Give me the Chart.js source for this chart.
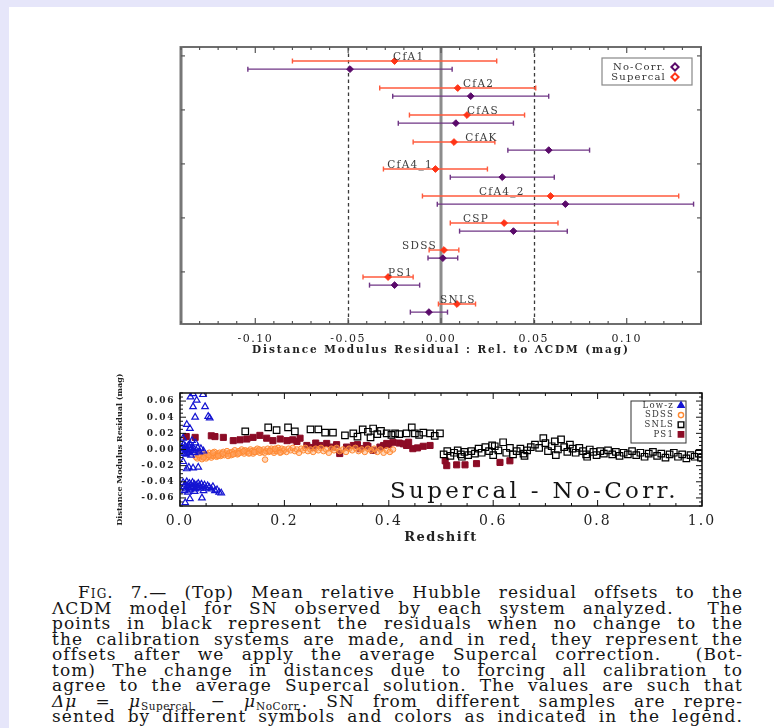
<!DOCTYPE html>
<html><head><meta charset="utf-8">
<script src="https://cdn.jsdelivr.net/npm/chart.js@4.4.1/dist/chart.umd.min.js"></script>
<style>
html,body{margin:0;padding:0;}
body{width:774px;height:728px;background:#e6e6fa;position:relative;overflow:hidden;}
#page{position:absolute;left:9px;top:7px;right:0;bottom:0;background:#fff;}
canvas{position:absolute;left:0;}
#c1{top:0;}
#c2{top:360px;}
.ln{position:absolute;left:52px;width:691px;height:16px;line-height:16px;font-family:"DejaVu Serif";font-size:17px;letter-spacing:1.05px;color:#151515;text-align:justify;text-align-last:justify;}
.ln sub{font-size:10.5px;vertical-align:-3px;line-height:0;letter-spacing:0.5px;}
.sc{font-variant:small-caps;}
</style>
</head><body>
<div id="page"></div>
<canvas id="c1" width="774" height="365"></canvas>
<canvas id="c2" width="774" height="200"></canvas>
<div class="ln" style="top:584px;left:78px;width:665px"><span class="sc">Fig.</span> 7.— (Top) Mean relative Hubble residual offsets to the</div>
<div class="ln" style="top:599.5px">ΛCDM model for SN observed by each system analyzed.&nbsp; The</div>
<div class="ln" style="top:615px">points in black represent the residuals when no change to the</div>
<div class="ln" style="top:630.5px">the calibration systems are made, and in red, they represent the</div>
<div class="ln" style="top:646px">offsets after we apply the average Supercal correction.&nbsp; (Bot-</div>
<div class="ln" style="top:661.5px">tom) The change in distances due to forcing all calibration to</div>
<div class="ln" style="top:677px">agree to the average Supercal solution. The values are such that</div>
<div class="ln" style="top:692.5px"><i>Δμ</i> = <i>μ</i><sub>Supercal</sub> − <i>μ</i><sub>NoCorr.</sub>. SN from different samples are repre-</div>
<div class="ln" style="top:708px">sented by different symbols and colors as indicated in the legend.</div>
<script>
// ---------------- DATA: top panel ----------------
const samples      = ['CfA1','CfA2','CfAS','CfAK','CfA4_1','CfA4_2','CSP','SDSS','PS1','SNLS'];
const noCorrMean   = [-0.049, 0.016, 0.008, 0.058, 0.033, 0.067, 0.039, 0.001, -0.025, -0.0065];
const noCorrErr    = [0.055, 0.042, 0.031, 0.022, 0.028, 0.069, 0.029, 0.008, 0.0135, 0.010];
const supercalMean = [-0.025, 0.009, 0.014, 0.007, -0.003, 0.059, 0.034, 0.0016, -0.0285, 0.0086];
const supercalErr  = [0.055, 0.042, 0.031, 0.022, 0.028, 0.069, 0.029, 0.008, 0.0135, 0.010];
const sampleLabelX = [-0.0258, 0.0118, 0.014, 0.013, -0.029, 0.0204, 0.0118, -0.021, -0.0285, -0.0005];
const residTicks   = [-0.10, -0.05, 0.00, 0.05, 0.10];

// ---------------- DATA: bottom panel [redshift, delta mu] ----------------
const lowz = [[0.025,0.069],[0.044,0.068],[0.032,0.061],[0.020,0.065],[0.025,0.053],[0.048,0.053],[0.029,0.040],[0.054,0.041],[0.057,0.039],[0.013,0.031],[0.019,0.026],[0.006,0.014],[0.023,0.011],[0.030,0.008],[0.016,0.005],
[0.004,0.003],[0.006,-0.002],[0.008,0.001],[0.009,-0.005],[0.010,0.004],[0.011,-0.001],[0.012,-0.006],[0.013,0.002],[0.014,-0.003],[0.015,0.000],[0.017,-0.004],[0.018,0.003],[0.020,-0.001],[0.021,-0.007],[0.022,0.002],[0.024,-0.002],[0.026,0.001],[0.028,-0.004],[0.031,-0.001],[0.034,0.002],[0.037,-0.003],[0.040,0.001],[0.045,-0.002],[0.007,0.006],[0.019,0.007],
[0.013,-0.024],[0.017,-0.022],[0.025,-0.023],[0.035,-0.022],[0.006,-0.015],
[0.006,-0.041],[0.008,-0.046],[0.010,-0.043],[0.011,-0.049],[0.013,-0.040],[0.014,-0.045],[0.016,-0.047],[0.018,-0.042],[0.019,-0.050],[0.021,-0.044],[0.022,-0.048],[0.024,-0.041],[0.026,-0.046],[0.027,-0.043],[0.029,-0.049],[0.031,-0.044],[0.033,-0.047],[0.035,-0.042],[0.037,-0.045],[0.039,-0.048],[0.041,-0.043],[0.044,-0.046],[0.047,-0.044],[0.050,-0.048],[0.053,-0.045],[0.056,-0.047],[0.060,-0.049],[0.063,-0.046],[0.067,-0.051],[0.071,-0.050],[0.075,-0.053],[0.079,-0.054],[0.009,-0.051],[0.015,-0.053],[0.028,-0.052],[0.045,-0.051],
[0.019,-0.061],[0.042,-0.060],[0.010,-0.066]];
const sdss = [[0.030,-0.009],[0.033,-0.011],[0.035,-0.006],[0.038,-0.010],[0.040,-0.008],[0.042,-0.012],[0.044,-0.005],[0.046,-0.009],[0.048,-0.007],[0.050,-0.011],[0.052,-0.006],[0.054,-0.009],[0.056,-0.004],[0.058,-0.008],[0.060,-0.010],[0.062,-0.006],[0.064,-0.008],[0.066,-0.003],[0.068,-0.007],[0.070,-0.009],[0.072,-0.005],[0.074,-0.007],[0.076,-0.004],[0.078,-0.008],[0.080,-0.006],[0.083,-0.003],[0.085,-0.007],[0.088,-0.005],[0.090,-0.002],[0.093,-0.006],[0.095,-0.004],[0.098,-0.007],[0.100,-0.003],[0.103,-0.005],[0.105,-0.001],[0.108,-0.004],[0.110,-0.006],[0.113,-0.002],[0.115,-0.004],[0.118,0.000],[0.120,-0.003],[0.123,-0.005],[0.125,-0.001],[0.128,-0.003],[0.130,-0.002],[0.133,-0.004],[0.135,0.000],[0.138,-0.002],[0.140,-0.005],[0.143,-0.001],[0.145,-0.003],[0.148,0.001],[0.150,-0.002],[0.153,-0.004],[0.155,-0.001],[0.158,-0.003],[0.160,0.000],[0.163,-0.0125],[0.165,-0.002],[0.168,0.001],[0.170,-0.003],[0.173,-0.001],[0.175,0.001],[0.178,-0.002],[0.180,-0.004],[0.183,0.000],[0.185,-0.002],[0.188,0.002],[0.190,-0.001],[0.193,-0.003],[0.195,0.001],[0.198,-0.002],[0.200,0.000],[0.204,-0.003],[0.208,0.001],[0.212,-0.001],[0.216,0.002],[0.220,-0.002],[0.224,0.000],[0.228,-0.004],[0.232,0.001],[0.236,-0.001],[0.240,0.002],[0.245,-0.002],[0.250,0.000],[0.255,-0.003],[0.260,0.001],[0.265,-0.001],[0.270,0.002],[0.275,-0.002],[0.280,0.000],[0.285,-0.004],[0.290,0.001],[0.295,-0.001],[0.300,0.002],[0.306,-0.002],[0.312,0.000],[0.318,-0.003],[0.324,0.001],[0.330,-0.001],[0.336,0.002],[0.342,-0.002],[0.348,0.000],[0.354,-0.003],[0.360,0.001],[0.366,-0.001],[0.372,0.001],[0.378,-0.003],[0.384,0.000],[0.390,-0.004],[0.396,-0.001],[0.402,-0.003],[0.408,0.000],
[0.036,-0.007],[0.045,-0.010],[0.055,-0.007],[0.063,-0.004],[0.073,-0.008],[0.082,-0.005],[0.092,-0.008],[0.102,-0.006],[0.112,-0.005],[0.122,-0.002],[0.132,-0.005],[0.142,-0.003],[0.152,0.000],[0.162,-0.004],[0.172,-0.002],[0.182,0.001],[0.192,-0.004]];
const snls = [[0.125,0.0225],[0.169,0.0275],[0.185,0.024],[0.207,0.0275],[0.220,0.0225],[0.250,0.025],[0.265,0.025],[0.278,0.021],[0.293,0.021],[0.316,0.0175],[0.332,0.020],[0.350,0.025],[0.360,0.022],[0.370,0.026],[0.378,0.019],[0.385,0.023],[0.396,0.020],[0.405,0.018],[0.412,0.020],[0.420,0.019],[0.434,0.020],[0.444,0.0275],[0.450,0.020],[0.458,0.018],[0.466,0.021],[0.479,0.020],[0.488,0.017],[0.498,0.020],[0.340,0.016],[0.365,0.015],
[0.505,-0.006],[0.512,-0.002],[0.518,-0.008],[0.525,-0.004],[0.532,-0.001],[0.538,-0.006],[0.545,-0.003],[0.552,-0.007],[0.558,-0.002],[0.565,-0.005],[0.572,0.001],[0.578,-0.004],[0.585,0.003],[0.592,-0.002],[0.598,0.005],[0.603,0.004],[0.610,-0.001],[0.619,0.009],[0.625,-0.004],[0.632,0.002],[0.638,-0.006],[0.645,-0.002],[0.652,0.001],[0.658,-0.005],[0.665,-0.001],[0.672,0.003],[0.680,0.006],[0.688,0.002],[0.696,0.014],[0.700,0.008],[0.705,-0.002],[0.712,0.004],[0.718,0.010],[0.724,0.000],[0.730,0.0125],[0.736,0.003],[0.742,-0.003],[0.747,0.006],[0.752,0.001],[0.758,-0.004],[0.765,0.002],[0.772,-0.002],[0.778,-0.006],[0.785,0.000],[0.792,-0.003],[0.798,-0.007],[0.805,-0.002],[0.812,-0.005],[0.820,-0.001],[0.828,-0.006],[0.835,-0.003],[0.842,-0.008],[0.850,-0.004],[0.858,-0.006],[0.866,-0.002],[0.874,-0.007],[0.882,-0.004],[0.890,-0.009],[0.898,-0.005],[0.906,-0.003],[0.914,-0.008],[0.922,-0.005],[0.930,-0.010],[0.938,-0.006],[0.946,-0.004],[0.954,-0.009],[0.962,-0.006],[0.970,-0.011],[0.978,-0.007],[0.986,-0.009],[0.994,-0.005],[0.998,-0.010],[0.540,-0.009],[0.600,-0.007],[0.660,-0.008],[0.720,-0.007],[0.780,-0.009]];
const ps1 = [[0.012,0.016],[0.029,0.015],[0.060,0.017],[0.067,0.016],[0.083,0.015],[0.102,0.011],[0.115,0.012],[0.128,0.013],[0.140,0.015],[0.153,0.0175],[0.166,0.014],[0.178,0.011],[0.192,0.013],[0.205,0.011],[0.216,0.012],[0.224,0.010],[0.230,0.014],[0.243,0.005],[0.255,0.0025],[0.268,0.005],[0.281,0.0075],[0.293,0.003],[0.306,-0.005],[0.319,0.003],[0.332,0.005],[0.345,0.001],[0.357,0.005],[0.370,-0.001],[0.383,0.003],[0.390,0.005],[0.396,0.0075],[0.408,0.009],[0.420,0.008],[0.434,0.005],[0.446,0.001],[0.455,0.002],[0.466,0.004],[0.479,0.005],[0.508,-0.014],[0.511,-0.020],[0.530,-0.019],[0.546,-0.019],[0.568,-0.0175],[0.613,-0.016],[0.632,-0.014],[0.260,0.008],[0.300,0.006],[0.340,0.006],[0.360,0.004],[0.400,0.006],[0.428,0.007],[0.438,0.009]];
const zTicks  = [0.0, 0.2, 0.4, 0.6, 0.8, 1.0];
const dmTicks = [-0.06, -0.04, -0.02, 0.00, 0.02, 0.04, 0.06];

// ---------------- helpers ----------------
Chart.defaults.font.family = '"DejaVu Serif", "Liberation Serif", serif';
Chart.defaults.color = '#222';
function spaced(scale, tickSp, titleSp){
  if (scale.__sp) return; scale.__sp = true;
  const dl = scale.drawLabels, dt = scale.drawTitle;
  scale.drawLabels = function(a){ const c=this.ctx; c.save(); c.letterSpacing=tickSp; dl.call(this,a); c.restore(); };
  scale.drawTitle = function(){ const c=this.ctx; c.save(); c.letterSpacing=titleSp; dt.call(this); c.restore(); };
}
function line(ctx,x0,y0,x1,y1){ ctx.beginPath(); ctx.moveTo(x0,y0); ctx.lineTo(x1,y1); ctx.stroke(); }
const toXY = arr => arr.map(p => ({x:p[0], y:p[1]}));

// ---------------- top chart ----------------
const RED='#ff3417', RED_BAR='#ff5a3c', PUR='#5a0a6a', PUR_BAR='#6f3585';
const ROW_SUPERCAL = 0.52, ROW_NOCORR = 0.82;

const topPlugin = {
  id:'topPlugin',
  beforeDatasetsDraw(chart){
    const {ctx, chartArea:a, scales:{x,y}} = chart;
    ctx.save();
    ctx.strokeStyle='#3a3a3a'; ctx.lineWidth=1.3; ctx.setLineDash([3.5,3]);
    for (const v of [-0.05,0.05]){ const px=Math.round(x.getPixelForValue(v))+0.5; line(ctx,px,a.top,px,a.bottom); }
    ctx.setLineDash([]);
    ctx.strokeStyle='#8c8c8c'; ctx.lineWidth=3;
    const p0=x.getPixelForValue(0); line(ctx,p0,a.top,p0,a.bottom);
    chart.data.datasets.forEach(ds=>{
      ctx.strokeStyle=ds.barColor; ctx.lineWidth=1.4;
      ds.data.forEach((p,i)=>{
        const yp=y.getPixelForValue(p.y);
        const xl=x.getPixelForValue(p.x-ds.err[i]), xr=x.getPixelForValue(p.x+ds.err[i]);
        line(ctx,xl,yp,xr,yp); line(ctx,xl,yp-2.5,xl,yp+2.5); line(ctx,xr,yp-2.5,xr,yp+2.5);
      });
    });
    ctx.restore();
  },
  afterDatasetsDraw(chart){
    const {ctx, chartArea:a, scales:{x,y}} = chart;
    ctx.save();
    // sample labels
    ctx.font='10.5px "DejaVu Serif"'; ctx.fillStyle='#3c3c3c'; ctx.letterSpacing='1.3px';
    ctx.textAlign='left'; ctx.textBaseline='alphabetic';
    samples.forEach((s,i)=>{ ctx.fillText(s, x.getPixelForValue(sampleLabelX[i]), y.getPixelForValue(i+ROW_SUPERCAL)-1.5); });
    ctx.letterSpacing='0px';
    // frame
    ctx.strokeStyle='#6e6e6e'; ctx.lineWidth=2;
    ctx.strokeRect(a.left,a.top,a.right-a.left,a.bottom-a.top);
    ctx.lineWidth=3; ctx.strokeStyle='#777'; line(ctx,a.left,a.top-1,a.left,a.bottom+1);
    // ticks
    ctx.lineWidth=1.2; ctx.strokeStyle='#555';
    for (let k=-14;k<=14;k++){
      const v=k/100, px=x.getPixelForValue(v), L=(k%5===0)?6:3;
      line(ctx,px,a.top,px,a.top+L); line(ctx,px,a.bottom,px,a.bottom-L);
    }
    for (let k=0;k<5;k++){
      const py=y.getPixelForValue(0.33+2*k);
      line(ctx,a.left,py,a.left+4,py); line(ctx,a.right,py,a.right-4,py);
    }
    // legend
    const bx=602, by=58, bw=90, bh=27;
    ctx.fillStyle='#fff'; ctx.fillRect(bx,by,bw,bh);
    ctx.strokeStyle='#888'; ctx.lineWidth=1.2; ctx.strokeRect(bx,by,bw,bh);
    ctx.font='10px "DejaVu Serif"'; ctx.letterSpacing='1.2px'; ctx.fillStyle='#333';
    ctx.textAlign='right'; ctx.textBaseline='middle';
    const entries=[chart.data.datasets[0], chart.data.datasets[1]];
    entries.forEach((ds,i)=>{
      const ey=by+9+i*10;
      ctx.fillText(ds.label, bx+64, ey);
      ctx.lineWidth=2; ctx.strokeStyle=ds.borderColor; ctx.fillStyle='#fff';
      Chart.helpers.drawPoint(ctx,{pointStyle:'rectRot',radius:3.6,borderWidth:2},bx+73,ey);
      ctx.fillStyle='#333';
    });
    ctx.restore();
  }
};

new Chart(document.getElementById('c1'), {
  type:'scatter',
  data:{datasets:[
    {label:'No-Corr.', data:noCorrMean.map((m,i)=>({x:m,y:i+ROW_NOCORR})), err:noCorrErr, barColor:PUR_BAR,
     pointStyle:'rectRot', pointRadius:3.4, backgroundColor:PUR, borderColor:PUR, borderWidth:1},
    {label:'Supercal', data:supercalMean.map((m,i)=>({x:m,y:i+ROW_SUPERCAL})), err:supercalErr, barColor:RED_BAR,
     pointStyle:'rectRot', pointRadius:3.4, backgroundColor:RED, borderColor:RED, borderWidth:1}
  ]},
  options:{
    responsive:false, animation:false, events:[],
    layout:{padding:{left:181,right:73,top:47,bottom:5}},
    plugins:{legend:{display:false},tooltip:{enabled:false}},
    scales:{
      x:{type:'linear',min:-0.14,max:0.14,
         afterBuildTicks:s=>{ s.ticks=residTicks.map(v=>({value:v})); },
         afterFit:s=>{ s.height=36; spaced(s,'1.5px','1.9px'); },
         grid:{display:false,drawTicks:false}, border:{display:false},
         ticks:{padding:9,font:{size:11},color:'#222',maxRotation:0,autoSkip:false,callback:v=>v.toFixed(2)},
         title:{display:true,text:'Distance Modulus Residual : Rel. to ΛCDM (mag)',font:{size:10.5,weight:'bold'},color:'#222',padding:{top:0,bottom:3}}},
      y:{type:'linear',min:0,max:10.26,reverse:true,display:false}
    }
  },
  plugins:[topPlugin]
});

// ---------------- bottom chart ----------------
const BLUE='#1414d2', ORANGE='#ff8a33', MAROON='#8c0c26';
const botPlugin = {
  id:'botPlugin',
  afterDatasetsDraw(chart){
    const {ctx, chartArea:a, scales:{x,y}} = chart;
    ctx.save();
    ctx.strokeStyle='#111'; ctx.lineWidth=1.5;
    ctx.strokeRect(a.left,a.top,a.right-a.left,a.bottom-a.top);
    ctx.lineWidth=1;
    for (let k=0;k<=20;k++){
      const px=x.getPixelForValue(k*0.05), L=(k%4===0)?6:3;
      line(ctx,px,a.top,px,a.top+L); line(ctx,px,a.bottom,px,a.bottom-L);
    }
    for (let k=-14;k<=14;k++){
      const py=y.getPixelForValue(k*0.005), L=(k%4===0)?6:3;
      line(ctx,a.left,py,a.left+L,py); line(ctx,a.right,py,a.right-L,py);
    }
    // annotation
    ctx.font='23px "DejaVu Serif"'; ctx.letterSpacing='3.3px'; ctx.fillStyle='#151515';
    ctx.textAlign='left'; ctx.textBaseline='alphabetic';
    ctx.fillText('Supercal - No-Corr.', 390, 138);
    // legend
    const bx=631, by=41, bw=55, bh=42;
    ctx.letterSpacing='1.2px';
    ctx.fillStyle='#fff'; ctx.fillRect(bx,by,bw,bh);
    ctx.strokeStyle='#333'; ctx.lineWidth=1; ctx.strokeRect(bx,by,bw,bh);
    ctx.font='8.5px "DejaVu Serif"'; ctx.textAlign='right'; ctx.textBaseline='middle';
    chart.data.datasets.forEach((ds,i)=>{
      const ey=by+4.5+i*9.6;
      ctx.fillStyle='#333'; ctx.fillText(ds.label, bx+43, ey);
      ctx.strokeStyle=ds.borderColor; ctx.lineWidth=1.4;
      ctx.fillStyle = ds.legendFill;
      Chart.helpers.drawPoint(ctx,{pointStyle:ds.pointStyle,radius:ds.legendRadius,borderWidth:1.4},bx+50,ey);
    });
    ctx.restore();
  }
};

new Chart(document.getElementById('c2'), {
  type:'scatter',
  data:{datasets:[
    {label:'Low-z', data:toXY(lowz), pointStyle:'triangle', pointRadius:3.8, borderWidth:1.2,
     borderColor:BLUE, backgroundColor:'rgba(255,255,255,0)', legendFill:BLUE, legendRadius:3.6},
    {label:'SDSS', data:toXY(sdss), pointStyle:'circle', pointRadius:2.8, borderWidth:1,
     borderColor:ORANGE, backgroundColor:'rgba(255,165,100,0.45)', legendFill:'#fff', legendRadius:2.6},
    {label:'SNLS', data:toXY(snls), pointStyle:'rect', pointRadius:4.6, borderWidth:1.2,
     borderColor:'#000', backgroundColor:'rgba(255,255,255,0)', legendFill:'#fff', legendRadius:4},
    {label:'PS1', data:toXY(ps1), pointStyle:'rect', pointRadius:4.3, borderWidth:1,
     borderColor:MAROON, backgroundColor:MAROON, legendFill:MAROON, legendRadius:3.8}
  ]},
  options:{
    responsive:false, animation:false, events:[],
    layout:{padding:{left:0,right:72,top:33,bottom:14}},
    plugins:{legend:{display:false},tooltip:{enabled:false}},
    scales:{
      x:{type:'linear',min:0,max:1,
         afterBuildTicks:s=>{ s.ticks=zTicks.map(v=>({value:v})); },
         afterFit:s=>{ s.height=40; spaced(s,'2px','1.5px'); },
         grid:{display:false,drawTicks:false}, border:{display:false},
         ticks:{padding:7,font:{size:14},color:'#222',maxRotation:0,autoSkip:false,callback:v=>v.toFixed(1)},
         title:{display:true,text:'Redshift',font:{size:13,weight:'bold'},color:'#222',padding:{top:0,bottom:1}}},
      y:{type:'linear',min:-0.07,max:0.07,
         afterBuildTicks:s=>{ s.ticks=dmTicks.map(v=>({value:v})); },
         afterFit:s=>{ s.width=180; spaced(s,'1.6px','0px'); },
         grid:{display:false,drawTicks:false}, border:{display:false},
         ticks:{padding:5,font:{size:9,weight:'bold'},color:'#222',autoSkip:false,callback:v=>v.toFixed(2)},
         title:{display:true,text:'Distance Modulus Residual (mag)',font:{size:8,weight:'bold'},color:'#222',padding:{top:115,bottom:0}}}
    }
  },
  plugins:[botPlugin]
});
</script>
</body></html>
